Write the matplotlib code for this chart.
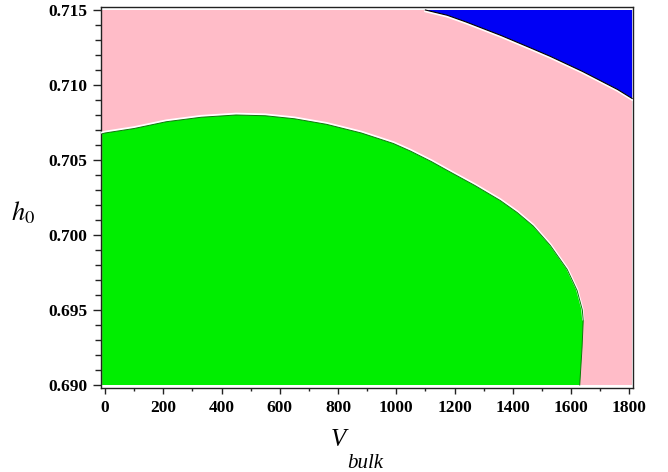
import matplotlib
matplotlib.use("Agg")
import matplotlib.pyplot as plt
from matplotlib.ticker import MultipleLocator, FormatStrFormatter

# ---- data ----
region_x = [-10, 1810]          # extent of the computed region (V_bulk)
region_h = [0.690, 0.715]       # extent of the computed region (h0)

green_x = [-10, 0, 100, 210, 330, 450, 550, 650, 760, 880, 990, 1048, 1120,
           1185, 1270, 1357, 1415, 1470, 1529, 1587, 1621, 1639, 1642, 1638, 1630]
green_h = [0.70675, 0.7068, 0.7071, 0.70755, 0.70785, 0.7080, 0.70795, 0.70775,
           0.70738, 0.7068, 0.7061, 0.7056, 0.7049, 0.7042, 0.7033, 0.7023,
           0.7015, 0.7006, 0.6993, 0.6977, 0.6963, 0.6950, 0.6943, 0.6925, 0.6900]

blue_x = [1100, 1175, 1240, 1300, 1360, 1415, 1470, 1530, 1585, 1640, 1700, 1760, 1810]
blue_h = [0.7150, 0.71465, 0.7142, 0.71375, 0.7133, 0.71285, 0.7124, 0.7119,
          0.7114, 0.7109, 0.7103, 0.7097, 0.7091]

x_ticks = list(range(0, 1801, 200))
y_ticks = [0.690, 0.695, 0.700, 0.705, 0.710, 0.715]

pink = '#ffbcc8'
green = '#00ee00'
blue = '#0000f5'

fig = plt.figure(figsize=(6.68, 4.72), dpi=100)
W, H = 668, 472
left, right, top, bottom = 101, 633, 7, 388
ax = fig.add_axes([left / W, 1 - bottom / H, (right - left) / W, (bottom - top) / H])
ax.set_xlim(-14, 1813)
ax.set_ylim(0.6898, 0.7152)

# pink background region
ax.fill([region_x[0], region_x[1], region_x[1], region_x[0]],
        [region_h[0], region_h[0], region_h[1], region_h[1]],
        color=pink, lw=0, zorder=1)

# green region
gx = list(green_x) + [green_x[0]]
gh = list(green_h) + [region_h[0]]
ax.fill(gx, gh, color=green, lw=0, zorder=2)
ax.plot(green_x[:-2], [h + 0.00008 for h in green_h[:-2]], color='white', lw=1.6,
        zorder=3, solid_joinstyle='round')
ax.plot(green_x, green_h, color='#0a7a0a', lw=0.7, zorder=4, solid_joinstyle='round')

# blue region
bx = list(blue_x) + [region_x[1], blue_x[0]]
bh = list(blue_h) + [region_h[1], region_h[1]]
ax.fill(bx, bh, color=blue, lw=0, zorder=2)
ax.plot(blue_x, [h - 0.00008 for h in blue_h], color='white', lw=1.6, zorder=3,
        solid_joinstyle='round')
ax.plot(blue_x, blue_h, color='black', lw=0.8, zorder=4, solid_joinstyle='round')

for s in ax.spines.values():
    s.set_color('#222222')
    s.set_linewidth(1.0)

ax.xaxis.set_minor_locator(MultipleLocator(100))
ax.yaxis.set_minor_locator(MultipleLocator(0.001))
ax.set_xticks(x_ticks)
ax.set_yticks(y_ticks)
ax.yaxis.set_major_formatter(FormatStrFormatter('%.3f'))
ax.tick_params(axis='y', which='major', direction='out', length=6, width=1.0,
               color='#222222', pad=4)
ax.tick_params(axis='y', which='minor', direction='out', length=4.5, width=1.0,
               color='#222222')
ax.tick_params(axis='x', which='major', direction='out', length=4, width=1.0,
               color='#222222', pad=5)
ax.tick_params(axis='x', which='minor', direction='out', length=2.5, width=1.0,
               color='#222222')
for lab in ax.get_xticklabels() + ax.get_yticklabels():
    lab.set_fontfamily('Liberation Serif')
    lab.set_fontweight('bold')
    lab.set_fontsize(12.5)

plt.rcParams['mathtext.fontset'] = 'stix'
fig.text(23 / W, 1 - 213 / H, r'$h_0$', fontsize=19, ha='center', va='center')
fig.text(338 / W, 1 - 446 / H, 'V', fontsize=18, fontstyle='italic',
         fontfamily='Liberation Serif', ha='center', va='baseline')
fig.text(365 / W, 1 - 468 / H, 'bulk', fontsize=15, fontstyle='italic',
         fontfamily='Liberation Serif', ha='center', va='baseline')

fig.savefig('out.png', dpi=100, facecolor='white')
